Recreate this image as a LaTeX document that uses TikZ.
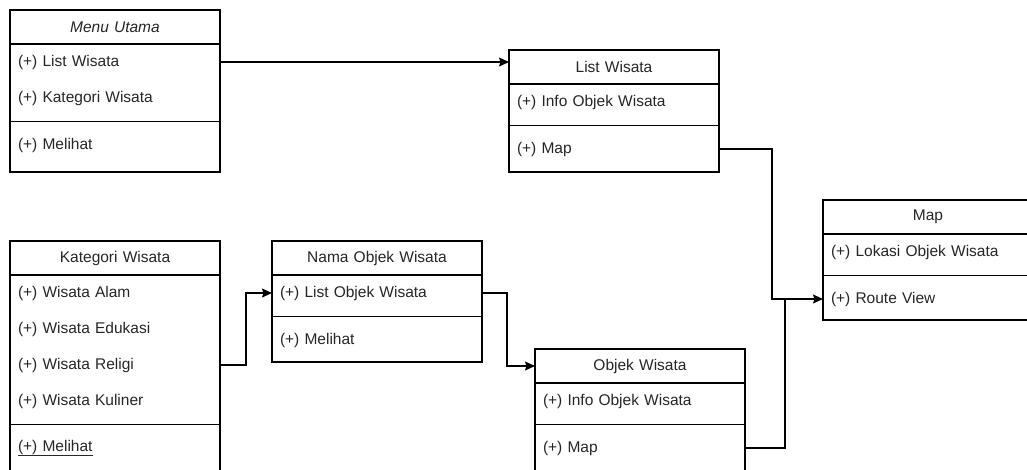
\documentclass[tikz,border=0pt]{standalone}
\usepackage{fontspec}
\setmainfont{Liberation Sans}
\usetikzlibrary{arrows.meta,positioning}

\begin{document}
\begin{tikzpicture}[
        x=1pt, y=-1pt,
        line width=1.2pt,
        >={Stealth[length=10pt,width=9pt,inset=1.5pt]},
        node distance=0pt,
        every node/.style={font=\fontsize{15.5}{18}\selectfont, text=black!85, outer sep=0pt},
        boxhead/.style={draw, anchor=north west, text width=194pt, inner xsep=8pt, inner ysep=0pt, minimum height=34pt, align=center},
        member/.style={text width=194pt, inner xsep=8pt, inner ysep=0pt, minimum height=36pt, align=left},
        divider/.style={minimum width=210pt, inner sep=0pt, minimum height=11pt},
        link/.style={draw, ->}
    ]
        \useasboundingbox (0,0) rectangle (1027,469);

        \node[boxhead] (mu) at (10,10) {\textit{Menu Utama}};
        \node[member, below=of mu] (mu-list) {(+) List Wisata};
        \node[member, below=of mu-list] (mu-kat) {(+) Kategori Wisata};
        \node[divider, below=of mu-kat] (mu-div) {};
        \node[member, below=of mu-div] (mu-lihat) {(+) Melihat};
        \draw (mu.north west) rectangle ([yshift=-9pt]mu-lihat.south east);
        \draw (mu-div.west) -- (mu-div.east);

        \node[boxhead] (lw) at (509,50) {List Wisata};
        \node[member, below=of lw] (lw-info) {(+) Info Objek Wisata};
        \node[divider, below=of lw-info] (lw-div) {};
        \node[member, below=of lw-div] (lw-map) {(+) Map};
        \draw (lw.north west) rectangle ([yshift=-5pt]lw-map.south east);
        \draw (lw-div.west) -- (lw-div.east);

        \node[boxhead] (kw) at (10,241) {Kategori Wisata};
        \node[member, below=of kw] (kw-alam) {(+) Wisata Alam};
        \node[member, below=of kw-alam] (kw-edu) {(+) Wisata Edukasi};
        \node[member, below=of kw-edu] (kw-religi) {(+) Wisata Religi};
        \node[member, below=of kw-religi] (kw-kuliner) {(+) Wisata Kuliner};
        \node[divider, below=of kw-kuliner] (kw-div) {};
        \node[member, below=of kw-div] (kw-lihat) {\underline{(+) Melihat}};
        \draw (kw.north west) rectangle ([yshift=-9pt]kw-lihat.south east);
        \draw (kw-div.west) -- (kw-div.east);

        \node[boxhead] (nw) at (272,241) {Nama Objek Wisata};
        \node[member, below=of nw] (nw-list) {(+) List Objek Wisata};
        \node[divider, below=of nw-list] (nw-div) {};
        \node[member, below=of nw-div] (nw-lihat) {(+) Melihat};
        \draw (nw.north west) rectangle ([yshift=-4pt]nw-lihat.south east);
        \draw (nw-div.west) -- (nw-div.east);

        \node[boxhead] (ow) at (535,349) {Objek Wisata};
        \node[member, below=of ow] (ow-info) {(+) Info Objek Wisata};
        \node[divider, below=of ow-info] (ow-div) {};
        \node[member, below=of ow-div] (ow-map) {(+) Map};
        \draw (ow.north west) rectangle ([yshift=-9pt]ow-map.south east);
        \draw (ow-div.west) -- (ow-div.east);

        \node[boxhead] (mp) at (823,200) {Map};
        \node[member, below=of mp] (mp-lokasi) {(+) Lokasi Objek Wisata};
        \node[divider, below=of mp-lokasi] (mp-div) {};
        \node[member, below=of mp-div] (mp-route) {(+) Route View};
        \draw (mp.north west) rectangle ([yshift=-3pt]mp-route.south east);
        \draw (mp-div.west) -- (mp-div.east);

        \draw[link] (mu-list.east) -- (mu-list.east -| lw.west);
        \draw[link] (kw-religi.east) -- ++(26,0) |- (nw-list.west);
        \draw[link] (nw-list.east) -- ++(25,0) |- (ow.west);
        \draw[link] (lw-map.east) -- ++(53,0) |- (mp-route.west);
        \draw (ow-map.east) -- ++(40,0) coordinate (ow-bend) -- (ow-bend |- mp-route.west);
    \end{tikzpicture}
\end{document}
